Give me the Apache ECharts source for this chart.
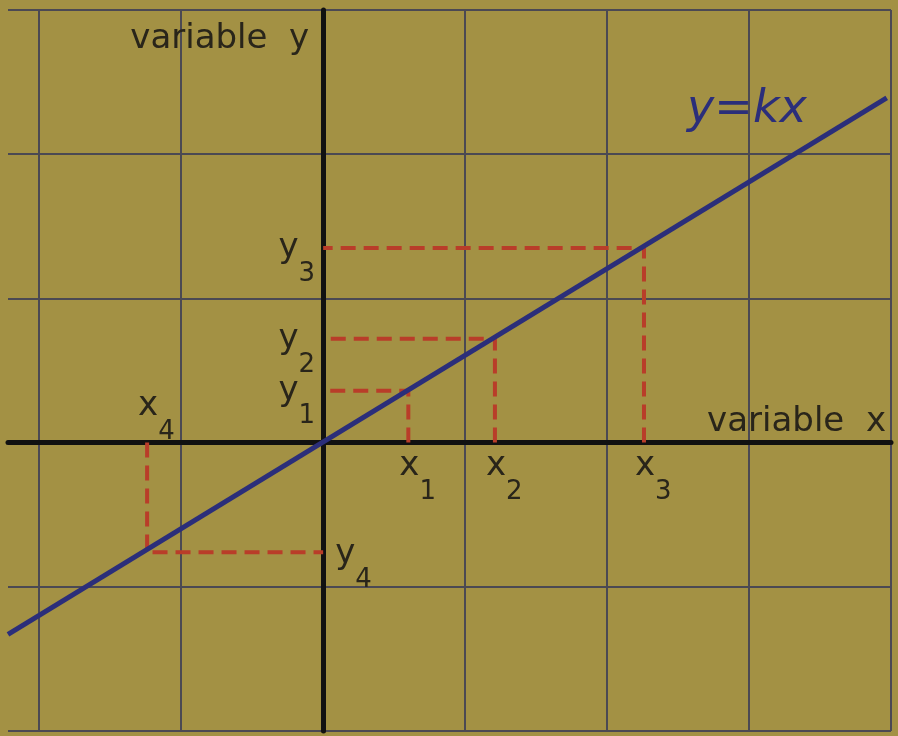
<!DOCTYPE html>
<html>
<head>
<meta charset="utf-8">
<title>y = kx</title>
<script src="https://cdn.jsdelivr.net/npm/echarts@6/dist/echarts.min.js"></script>
<style>
  html, body { margin: 0; padding: 0; background: #a39144; }
  #chart { width: 898px; height: 736px; }
</style>
</head>
<body>
<div id="chart"></div>
<script>
// Proportional relation y = kx with four sample points projected on the axes
const xGridValues = [-2, -1, 0, 1, 2, 3, 4];
const lineX = [-2.22, 3.97];
const lineY = [-1.33, 2.39];
const pointX = [0.6, 1.21, 2.26, -1.24];
const pointY = [0.36, 0.72, 1.35, -0.76];
const subscripts = ['1', '2', '3', '4'];
const xAxisName = 'variable  x';
const yAxisName = 'variable  y';
const lineName = 'y=kx';

const FONT = 'DejaVu Sans';
const INK = '#29251a';
const GRID_COLOR = '#4b4953';
const RED = '#b93d29';
const BLUE = '#2b2e7a';

const rich = {
  m: { fontFamily: FONT, fontSize: 34, color: INK, verticalAlign: 'top' },
  s: { fontFamily: FONT, fontSize: 26, color: INK, verticalAlign: 'top', padding: [30, 0, 0, 0] }
};

// dashed projections: foot on x axis -> point -> foot on y axis
const projectionSeries = pointX.map((x, i) => ({
  type: 'line',
  data: [[x, 0], [x, pointY[i]], [0, pointY[i]]],
  showSymbol: false,
  silent: true,
  z: 2,
  lineStyle: { color: RED, width: 4, type: [15, 8] }
}));

// x_i labels sit on the side of the x axis opposite to the point
const xLabelSeries = {
  type: 'scatter',
  symbolSize: 0,
  silent: true,
  z: 5,
  itemStyle: { opacity: 1 },
  data: pointX.map((x, i) => ({
    value: [x, 0],
    label: {
      show: true,
      opacity: 1,
      formatter: '{m|x}{s|' + subscripts[i] + '}',
      rich: rich,
      align: 'left',
      verticalAlign: 'top',
      position: pointY[i] >= 0 ? [-9, 7] : [-9, -53]
    }
  }))
};

// y_i labels sit on the side of the y axis opposite to the point
const yLabelSeries = {
  type: 'scatter',
  symbolSize: 0,
  silent: true,
  z: 5,
  itemStyle: { opacity: 1 },
  data: pointY.map((y, i) => ({
    value: [0, y],
    label: {
      show: true,
      opacity: 1,
      formatter: '{m|y}{s|' + subscripts[i] + '}',
      rich: rich,
      align: pointX[i] >= 0 ? 'right' : 'left',
      verticalAlign: 'top',
      position: pointX[i] >= 0 ? [-8, -17] : [12, -15]
    }
  }))
};

const chart = echarts.init(document.getElementById('chart'), null, { renderer: 'canvas' });

chart.setOption({
  backgroundColor: '#a39144',
  animation: false,
  grid: { left: 8, right: 7, top: 10, bottom: 5, containLabel: false },
  xAxis: {
    type: 'value',
    min: lineX[0],
    max: 4,
    name: xAxisName,
    nameLocation: 'end',
    nameGap: -5,
    nameTextStyle: {
      fontFamily: FONT, fontSize: 34, color: INK,
      align: 'right', verticalAlign: 'bottom', padding: [0, 0, 3, 0]
    },
    axisLine: { onZero: true, lineStyle: { color: '#111', width: 5 } },
    axisTick: { show: false, customValues: xGridValues },
    axisLabel: { show: false },
    splitLine: { show: true, lineStyle: { color: GRID_COLOR, width: 2 } }
  },
  yAxis: {
    type: 'value',
    min: -2,
    max: 3,
    interval: 1,
    name: yAxisName,
    nameLocation: 'end',
    nameGap: -12,
    nameTextStyle: {
      fontFamily: FONT, fontSize: 34, color: INK,
      align: 'right', verticalAlign: 'top', padding: [0, 14, 0, 0]
    },
    axisLine: { onZero: true, lineStyle: { color: '#111', width: 5 } },
    axisTick: { show: false },
    axisLabel: { show: false },
    splitLine: { show: true, lineStyle: { color: GRID_COLOR, width: 2 } }
  },
  series: [
    ...projectionSeries,
    {
      type: 'line',
      name: lineName,
      data: lineX.map((x, i) => [x, lineY[i]]),
      showSymbol: false,
      silent: true,
      z: 3,
      lineStyle: { color: BLUE, width: 5 },
      endLabel: {
        show: true,
        formatter: lineName,
        fontFamily: FONT,
        fontStyle: 'italic',
        fontSize: 46,
        color: BLUE,
        align: 'right',
        verticalAlign: 'top',
        lineHeight: 24,
        padding: [0, 80, 0, 0],
        distance: 0
      }
    },
    xLabelSeries,
    yLabelSeries
  ]
});
</script>
</body>
</html>
